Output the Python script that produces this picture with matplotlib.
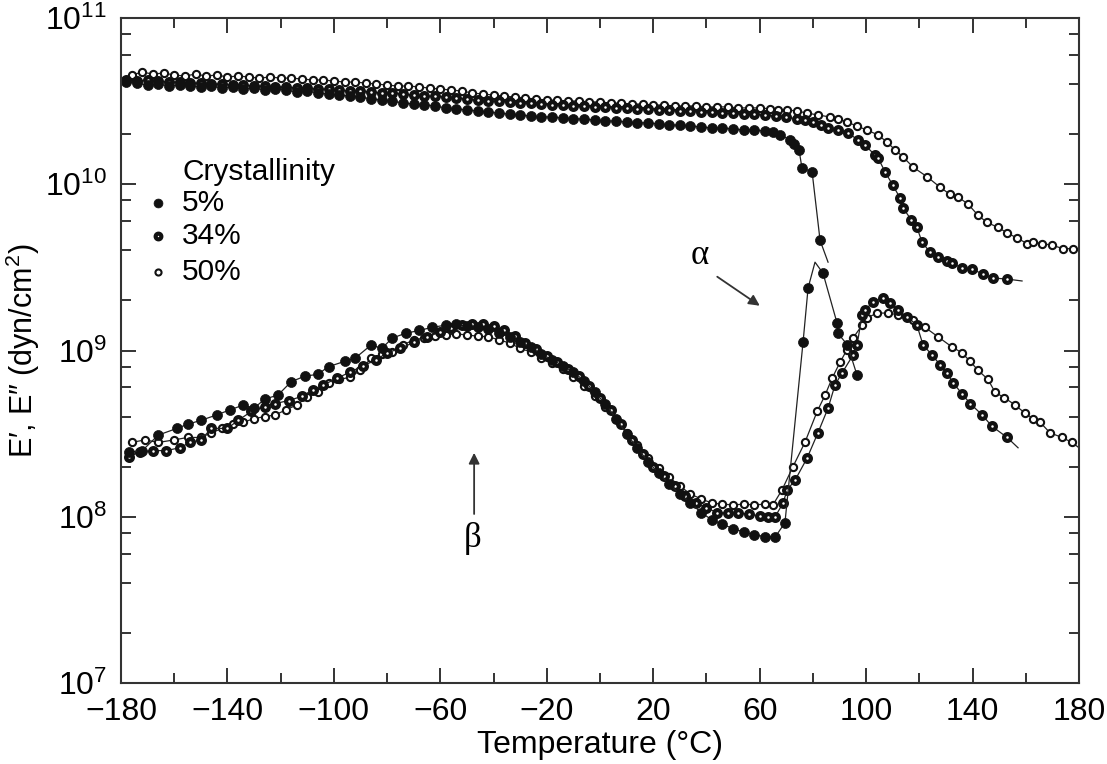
import numpy as np
import matplotlib
matplotlib.use("Agg")
import matplotlib.pyplot as plt
from matplotlib.ticker import FixedLocator, LogLocator, NullFormatter

plt.rcParams['font.family'] = ['Liberation Sans', 'DejaVu Sans']
plt.rcParams['mathtext.fontset'] = 'custom'
plt.rcParams['mathtext.rm'] = 'Liberation Sans'

# --- storage modulus E' (dyn/cm2) ---
e1_50_x = [-176, -172, -168, -164, -160, -156, -152, -148, -144, -140, -136, -132, -128, -124,
           -120, -116, -112, -108, -104, -100, -96, -92, -88, -84, -80, -76, -72, -68, -64, -60,
           -56, -52, -48, -44, -40, -36, -32, -28, -24, -20, -16, -12, -8, -4, 0, 4, 8, 12, 16,
           20, 24, 28, 32, 36, 40, 44, 48, 52, 56, 60, 64, 67, 70.3, 74, 77.8, 82, 86.4, 89.5,
           92.8, 96.5, 100.3, 104.5, 107.9, 110.9, 113.9, 117.6, 122.9, 127.8, 131.5, 134.5,
           138.3, 142.1, 145.4, 149.6, 153, 156.7, 160.5, 162.7, 166.1, 169.9, 174.0, 177.8]
e1_50_y = [4.54e10, 4.73e10, 4.60e10, 4.67e10, 4.54e10, 4.48e10, 4.60e10, 4.48e10, 4.54e10,
           4.42e10, 4.48e10, 4.42e10, 4.35e10, 4.42e10, 4.35e10, 4.35e10, 4.30e10, 4.24e10,
           4.24e10, 4.18e10, 4.12e10, 4.12e10, 4.06e10, 4.01e10, 3.95e10, 3.90e10, 3.90e10,
           3.85e10, 3.79e10, 3.74e10, 3.69e10, 3.64e10, 3.54e10, 3.49e10, 3.44e10, 3.39e10,
           3.35e10, 3.30e10, 3.26e10, 3.21e10, 3.21e10, 3.17e10, 3.17e10, 3.13e10, 3.13e10,
           3.08e10, 3.08e10, 3.04e10, 3.04e10, 3.00e10, 3.00e10, 2.96e10, 2.96e10, 2.96e10,
           2.92e10, 2.92e10, 2.92e10, 2.88e10, 2.88e10, 2.88e10, 2.84e10, 2.80e10, 2.80e10,
           2.76e10, 2.68e10, 2.61e10, 2.54e10, 2.47e10, 2.37e10, 2.24e10, 2.12e10, 1.98e10,
           1.79e10, 1.61e10, 1.46e10, 1.27e10, 1.11e10, 9.6e9, 8.7e9, 8.4e9, 7.6e9, 6.5e9,
           5.9e9, 5.5e9, 5.1e9, 4.75e9, 4.4e9, 4.5e9, 4.4e9, 4.3e9, 4.1e9, 4.1e9]

e1_34_x = [-178, -174, -170, -166, -162, -158, -154, -150, -146, -142, -138, -134, -130, -126,
           -122, -118, -114, -110, -106, -102, -98, -94, -90, -86, -82, -78, -74, -70, -66, -62,
           -58, -54, -50, -46, -42, -38, -34, -30, -26, -22, -18, -14, -10, -6, -2, 2, 6, 10, 14,
           18, 22, 26, 30, 34, 38, 42, 46, 50, 54, 58, 62, 66, 70, 74, 77, 80.1, 83, 85.7, 89.4,
           93.2, 97.0, 99.6, 103.3, 104.5, 107.1, 110, 112.7, 113.9, 117, 119.1, 121.0, 124.0,
           127.0, 130.4, 132.3, 136.0, 139.8, 143.9, 147.7, 153.0, 158.6]
e1_34_y = [4.24e10, 4.18e10, 4.24e10, 4.18e10, 4.12e10, 4.12e10, 4.06e10, 4.06e10, 4.01e10,
           4.01e10, 3.95e10, 3.95e10, 3.90e10, 3.90e10, 3.85e10, 3.85e10, 3.79e10, 3.79e10,
           3.74e10, 3.74e10, 3.69e10, 3.64e10, 3.64e10, 3.59e10, 3.54e10, 3.54e10, 3.49e10,
           3.44e10, 3.39e10, 3.39e10, 3.35e10, 3.30e10, 3.26e10, 3.21e10, 3.17e10, 3.17e10,
           3.13e10, 3.08e10, 3.08e10, 3.04e10, 3.00e10, 3.00e10, 2.96e10, 2.96e10, 2.92e10,
           2.92e10, 2.88e10, 2.88e10, 2.84e10, 2.84e10, 2.80e10, 2.80e10, 2.76e10, 2.76e10,
           2.72e10, 2.72e10, 2.68e10, 2.68e10, 2.64e10, 2.64e10, 2.61e10, 2.57e10, 2.54e10,
           2.47e10, 2.43e10, 2.37e10, 2.27e10, 2.18e10, 2.12e10, 2.03e10, 1.85e10, 1.72e10,
           1.50e10, 1.44e10, 1.19e10, 9.9e9, 8.3e9, 7.2e9, 6.1e9, 5.5e9, 4.5e9, 3.9e9, 3.65e9,
           3.45e9, 3.36e9, 3.13e9, 3.09e9, 2.88e9, 2.73e9, 2.69e9, 2.62e9]

e1_5_x = [-178, -174, -170, -166, -162, -158, -154, -150, -146, -142, -138, -134, -130, -126,
          -122, -118, -114, -110, -106, -102, -98, -94, -90, -86, -82, -78, -74, -70, -66, -62,
          -58, -54, -50, -46, -42, -38, -34, -30, -26, -22, -18, -14, -10, -6, -2, 2, 6, 10, 14,
          18, 22, 26, 30, 34, 38, 42, 46, 50, 54, 58, 62, 65, 67.7, 71.4, 73, 74.8, 75.9, 79.7,
          82.7, 85.7]
e1_5_y = [4.12e10, 4.06e10, 3.95e10, 4.01e10, 3.90e10, 3.95e10, 3.90e10, 3.85e10, 3.90e10,
          3.79e10, 3.85e10, 3.74e10, 3.79e10, 3.69e10, 3.74e10, 3.69e10, 3.59e10, 3.64e10,
          3.54e10, 3.49e10, 3.44e10, 3.39e10, 3.35e10, 3.26e10, 3.21e10, 3.17e10, 3.08e10,
          3.04e10, 3.00e10, 2.96e10, 2.88e10, 2.84e10, 2.80e10, 2.76e10, 2.72e10, 2.68e10,
          2.64e10, 2.61e10, 2.57e10, 2.54e10, 2.54e10, 2.50e10, 2.47e10, 2.47e10, 2.43e10,
          2.40e10, 2.40e10, 2.37e10, 2.34e10, 2.34e10, 2.31e10, 2.27e10, 2.27e10, 2.24e10,
          2.21e10, 2.18e10, 2.18e10, 2.15e10, 2.12e10, 2.12e10, 2.09e10, 2.06e10, 1.98e10,
          1.85e10, 1.75e10, 1.61e10, 1.25e10, 1.19e10, 4.6e9, 3.4e9]

# --- loss modulus E'' (dyn/cm2) ---
e2_50_x = [-176, -171, -166, -160, -155, -150, -146, -142, -138, -134, -130, -126, -122, -118,
           -114, -110, -106, -102, -98, -94, -90, -86, -82, -78, -74, -70, -66, -62, -58, -54,
           -50, -46, -42, -38, -34, -30, -26, -22, -18, -14, -10, -6, -2, 2, 6, 10, 14, 18, 22,
           26, 30, 34, 38, 42, 46, 50, 54, 58, 62, 65, 68.4, 72.5, 77.0, 81.6, 84.6, 87.2, 90.2,
           92.8, 95.1, 98.5, 100.3, 104.1, 108.2, 112.0, 115.4, 117.6, 122.1, 127.0, 132.3,
           136.0, 139.1, 142.1, 145.8, 148.5, 152, 156.0, 159.7, 162.7, 165.4, 169.1, 173.6,
           177.4, 180]
e2_50_y = [2.8e8, 2.9e8, 2.8e8, 2.9e8, 3.0e8, 3.0e8, 3.2e8, 3.4e8, 3.6e8, 3.7e8, 3.9e8, 4.0e8,
           4.1e8, 4.4e8, 4.7e8, 5.25e8, 5.6e8, 6.4e8, 6.7e8, 6.9e8, 7.6e8, 9.0e8, 9.5e8, 9.8e8,
           1.08e9, 1.16e9, 1.19e9, 1.22e9, 1.24e9, 1.26e9, 1.24e9, 1.22e9, 1.21e9, 1.16e9,
           1.11e9, 1.03e9, 9.8e8, 9.0e8, 8.4e8, 7.7e8, 6.9e8, 6.1e8, 5.3e8, 4.6e8, 3.9e8, 3.2e8,
           2.7e8, 2.25e8, 1.97e8, 1.73e8, 1.53e8, 1.37e8, 1.28e8, 1.21e8, 1.19e8, 1.18e8,
           1.19e8, 1.18e8, 1.19e8, 1.18e8, 1.45e8, 2.0e8, 2.8e8, 4.3e8, 5.4e8, 6.8e8, 8.5e8,
           1.01e9, 1.19e9, 1.42e9, 1.57e9, 1.68e9, 1.68e9, 1.64e9, 1.59e9, 1.52e9, 1.38e9,
           1.21e9, 1.05e9, 9.7e8, 8.6e8, 7.6e8, 6.7e8, 5.6e8, 5.2e8, 4.7e8, 4.2e8, 3.9e8,
           3.7e8, 3.2e8, 3.0e8, 2.8e8, 2.6e8]

e2_34_x = [-177, -173, -168, -163, -158, -154, -150, -146, -140, -136, -131, -126, -122, -117,
           -112, -108, -104, -99, -94, -89, -84, -80, -75, -70, -65, -60, -56, -52, -48, -44,
           -40, -36, -32, -28, -24, -20, -16, -12, -8, -4, 0, 4, 8, 12, 16, 20, 24, 28, 32, 36,
           40, 44, 48, 52, 56, 60, 63, 65.8, 68.8, 70.3, 73.3, 77.8, 81.9, 85.7, 88.3, 90.9,
           95.1, 96.6, 98.5, 99.6, 102.6, 106.4, 109, 112.0, 115.5, 119.1, 121.4, 124.8, 127.8,
           130.4, 132.7, 136.0, 139.1, 143.6, 147.3, 153.0, 157.1]
e2_34_y = [2.3e8, 2.45e8, 2.5e8, 2.5e8, 2.6e8, 2.8e8, 2.9e8, 3.4e8, 3.4e8, 3.8e8, 4.3e8, 4.6e8,
           4.8e8, 5.0e8, 5.3e8, 5.8e8, 6.2e8, 6.8e8, 7.4e8, 8.1e8, 8.8e8, 9.7e8, 1.03e9, 1.12e9,
           1.21e9, 1.29e9, 1.36e9, 1.42e9, 1.44e9, 1.44e9, 1.40e9, 1.33e9, 1.22e9, 1.11e9,
           1.02e9, 9.3e8, 8.5e8, 7.7e8, 7.0e8, 6.1e8, 5.2e8, 4.4e8, 3.6e8, 2.9e8, 2.4e8, 2.0e8,
           1.75e8, 1.53e8, 1.34e8, 1.21e8, 1.13e8, 1.06e8, 1.05e8, 1.05e8, 1.04e8, 1.01e8,
           1.0e8, 1.0e8, 1.21e8, 1.45e8, 1.66e8, 2.25e8, 3.2e8, 4.5e8, 6.2e8, 7.3e8, 9.4e8,
           1.08e9, 1.64e9, 1.75e9, 1.96e9, 2.07e9, 1.93e9, 1.75e9, 1.59e9, 1.42e9, 1.08e9,
           9.4e8, 8.2e8, 7.3e8, 6.4e8, 5.5e8, 4.8e8, 4.1e8, 3.5e8, 3.0e8, 2.6e8]

e2_5_x = [-177, -172, -166, -159, -155, -150, -144, -139, -134, -130, -126, -121, -116, -111,
          -106, -102, -96, -92, -86, -82, -78, -73, -68, -63, -58, -54, -50, -46, -42, -38, -34,
          -30, -26, -22, -18, -14, -10, -6, -2, 2, 6, 10, 14, 18, 22, 26, 30, 34, 38, 42, 46, 50,
          54, 58, 62, 65.8, 69.5, 76.3, 78.2, 80.8, 83.8, 89.1, 89.4, 93, 96.6]
e2_5_y = [2.45e8, 2.5e8, 3.1e8, 3.4e8, 3.6e8, 3.8e8, 4.1e8, 4.4e8, 4.7e8, 4.5e8, 5.1e8, 5.4e8,
          6.5e8, 7.0e8, 7.2e8, 8.0e8, 8.6e8, 9.0e8, 1.08e9, 1.03e9, 1.19e9, 1.27e9, 1.32e9,
          1.38e9, 1.42e9, 1.44e9, 1.40e9, 1.38e9, 1.35e9, 1.27e9, 1.21e9, 1.12e9, 1.05e9,
          9.5e8, 8.8e8, 8.1e8, 7.4e8, 6.6e8, 5.6e8, 4.8e8, 3.9e8, 3.15e8, 2.6e8, 2.15e8,
          1.83e8, 1.57e8, 1.37e8, 1.21e8, 1.06e8, 9.6e7, 9.0e7, 8.5e7, 8.1e7, 7.8e7, 7.6e7,
          7.55e7, 9.2e7, 1.12e9, 2.38e9, 3.4e9, 2.92e9, 1.46e9, 1.27e9, 1.08e9, 7.1e8]

# points that only carry the fitted line (no symbol)
line_only = {
    'e1_50': [], 'e1_34': [len(e1_34_x) - 1], 'e1_5': [len(e1_5_x) - 1],
    'e2_50': [len(e2_50_x) - 1], 'e2_34': [len(e2_34_x) - 1], 'e2_5': [59],
}

styles = {
    '50': dict(marker='o', ms=5.2, mfc='white', mec='#111111', mew=1.5),
    '34': dict(marker='o', ms=4.9, mfc='white', mec='#111111', mew=3.0),
    '5': dict(marker='o', ms=7.2, mfc='#111111', mec='#111111', mew=0.5),
}

fig = plt.figure(figsize=(11.07, 7.64), dpi=100)
ax = fig.add_axes([0.1093, 0.106, 0.8654, 0.8704])

curves = [('e1_50', e1_50_x, e1_50_y, '50'), ('e2_50', e2_50_x, e2_50_y, '50'),
          ('e1_34', e1_34_x, e1_34_y, '34'), ('e2_34', e2_34_x, e2_34_y, '34'),
          ('e1_5', e1_5_x, e1_5_y, '5'), ('e2_5', e2_5_x, e2_5_y, '5')]
for name, xs, ys, key in curves:
    keep = [i for i in range(len(xs)) if i not in line_only[name]]
    ax.plot(xs, ys, color='#222222', lw=0.9, markevery=keep, clip_on=True, **styles[key])

ax.set_yscale('log')
ax.set_xlim(-180, 180)
ax.set_ylim(1e7, 1e11)
ax.xaxis.set_major_locator(FixedLocator(np.arange(-180, 181, 40)))
ax.xaxis.set_minor_locator(FixedLocator(np.arange(-160, 180, 40)))
ax.yaxis.set_major_locator(LogLocator(base=10, numticks=10))
ax.yaxis.set_minor_locator(LogLocator(base=10, subs=(2, 4, 6, 8), numticks=10))
ax.yaxis.set_minor_formatter(NullFormatter())
ax.tick_params(which='both', direction='in', top=True, right=True, width=1.4,
               labelsize=23, color='#333333')
ax.tick_params(which='major', length=11, pad=10)
ax.tick_params(which='minor', length=7)
for s in ax.spines.values():
    s.set_linewidth(1.5)
    s.set_color('#333333')

ax.set_xlabel('Temperature (°C)', fontsize=23, labelpad=2)
ax.set_ylabel('E′, E″ (dyn/cm$^2$)', fontsize=22, labelpad=2)

# legend drawn by hand
ax.text(0.064, 0.768, 'Crystallinity', transform=ax.transAxes, fontsize=21.5, va='center')
for yy, lab, key in [(0.722, '5%', '5'), (0.672, '34%', '34'), (0.618, '50%', '50')]:
    st = dict(styles[key])
    st['ms'] = st['ms'] - 0.8
    ax.plot([0.0386], [yy], transform=ax.transAxes, ls='none', **st)
    ax.text(0.064, yy, lab, transform=ax.transAxes, fontsize=21.5, va='center')

# alpha / beta relaxations
ax.annotate('', xy=(60.9, 1.82e9), xytext=(43.2, 2.84e9),
            arrowprops=dict(arrowstyle='-|>', color='#333333', lw=1.3, mutation_scale=16))
ax.text(37.6, 3.75e9, 'α', fontsize=25, family='Liberation Serif', ha='center', va='center')
ax.annotate('', xy=(-47.3, 2.52e8), xytext=(-47.3, 1.0e8),
            arrowprops=dict(arrowstyle='-|>', color='#333333', lw=1.3, mutation_scale=16))
ax.text(-47.9, 7.4e7, 'β', fontsize=25, family='Liberation Serif', ha='center', va='center')

fig.savefig('out.png', dpi=100)
